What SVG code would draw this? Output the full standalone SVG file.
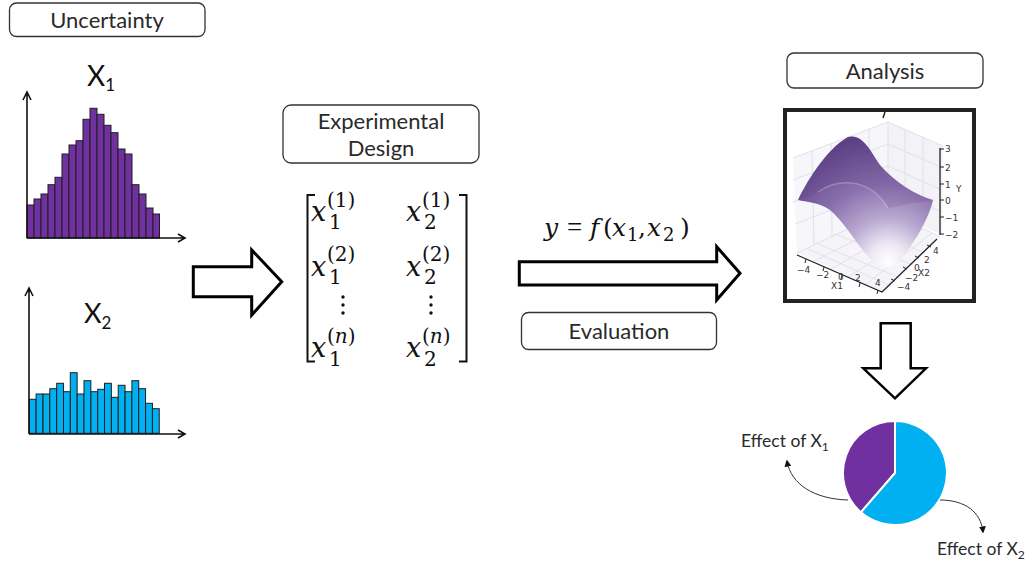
<svg xmlns="http://www.w3.org/2000/svg" width="1033" height="567" viewBox="0 0 1033 567">
<style>
.box{fill:#fff;stroke:#333;stroke-width:1.3}
.lbl{font-family:Lato,"Noto Sans",sans-serif;font-weight:400;font-size:22px;fill:#2a2a2a;text-anchor:middle}
.ax{stroke:#111;stroke-width:1.6;fill:none}
.b1{fill:#7030a0;stroke:#1e1e1e;stroke-width:1}
.b2{fill:#00b0f0;stroke:#1e1e1e;stroke-width:1}
.big{fill:#fff;stroke:#000;stroke-linejoin:miter}
.m{font-family:"DejaVu Serif",serif;fill:#111}
.mi{font-style:italic}
.grid{stroke:#e3e0ea;stroke-width:1;fill:none}
.tk{font-family:"DejaVu Sans",sans-serif;font-size:9px;fill:#333}
.eff{font-family:Lato,"Noto Sans",sans-serif;font-weight:400;font-size:17.5px;fill:#2a2a2a}
.hx{font-family:Lato,"Noto Sans",sans-serif;font-weight:400;fill:#111}
</style>
<defs>
<marker id="ah" viewBox="0 0 10 10" refX="8" refY="5" markerWidth="7" markerHeight="7" orient="auto">
<path d="M0,0 L10,5 L0,10 Z" fill="#111"/>
</marker>
<radialGradient id="surf" gradientUnits="userSpaceOnUse" cx="888" cy="262" r="130" fx="888" fy="262">
<stop offset="0" stop-color="#ffffff"/>
<stop offset="0.14" stop-color="#eee8f4"/>
<stop offset="0.34" stop-color="#b9a8d0"/>
<stop offset="0.6" stop-color="#8b72ae"/>
<stop offset="1" stop-color="#5c4086"/>
</radialGradient>
</defs>

<g id="uncertainty">
<rect class="box" x="9.5" y="3" width="195.5" height="33.5" rx="7"/>
<text class="lbl" x="107" y="27.5">Uncertainty</text>
</g>

<g id="hist-x1">
<text class="hx" font-size="28" x="87" y="86">X<tspan font-size="17" dy="5">1</tspan></text>
<rect class="b1" x="27" y="205" width="7" height="33"/>
<rect class="b1" x="34" y="199" width="7" height="39"/>
<rect class="b1" x="41" y="194" width="7" height="44"/>
<rect class="b1" x="48" y="184.7" width="7" height="53.3"/>
<rect class="b1" x="55" y="177.3" width="7" height="60.7"/>
<rect class="b1" x="62" y="154" width="7" height="84"/>
<rect class="b1" x="69" y="145" width="7" height="93"/>
<rect class="b1" x="76" y="140.7" width="7" height="97.3"/>
<rect class="b1" x="83" y="119.3" width="7" height="118.7"/>
<rect class="b1" x="90" y="108.3" width="7" height="129.7"/>
<rect class="b1" x="97" y="114.3" width="7" height="123.7"/>
<rect class="b1" x="104" y="125.3" width="7" height="112.7"/>
<rect class="b1" x="111" y="132.7" width="7" height="105.3"/>
<rect class="b1" x="118" y="149" width="7" height="89"/>
<rect class="b1" x="125" y="154" width="7" height="84"/>
<rect class="b1" x="132" y="184.7" width="7" height="53.3"/>
<rect class="b1" x="139" y="194" width="7" height="44"/>
<rect class="b1" x="146" y="208" width="7" height="30"/>
<rect class="b1" x="153" y="214" width="6.5" height="24"/>
<path class="ax" d="M27,238 L27,92 M23,100 L27,92 L31,100 M27,238 L185,238 M178,234 L185,238 L178,242"/>
</g>

<g id="hist-x2">
<text class="hx" font-size="27" x="84" y="323">X<tspan font-size="17" dy="6">2</tspan></text>
<rect class="b2" x="29.3" y="399.3" width="6.84" height="34"/>
<rect class="b2" x="36.1" y="394" width="6.84" height="39.3"/>
<rect class="b2" x="43" y="394" width="6.84" height="39.3"/>
<rect class="b2" x="49.8" y="388.7" width="6.84" height="44.6"/>
<rect class="b2" x="56.7" y="383.3" width="6.84" height="50"/>
<rect class="b2" x="63.5" y="391.7" width="6.84" height="41.6"/>
<rect class="b2" x="70.3" y="372.7" width="6.84" height="60.6"/>
<rect class="b2" x="77.2" y="394" width="6.84" height="39.3"/>
<rect class="b2" x="84" y="380.7" width="6.84" height="52.6"/>
<rect class="b2" x="90.9" y="391.7" width="6.84" height="41.6"/>
<rect class="b2" x="97.7" y="389.3" width="6.84" height="44"/>
<rect class="b2" x="104.5" y="383.3" width="6.84" height="50"/>
<rect class="b2" x="111.4" y="397.3" width="6.84" height="36"/>
<rect class="b2" x="118.2" y="385.3" width="6.84" height="48"/>
<rect class="b2" x="125.1" y="391.7" width="6.84" height="41.6"/>
<rect class="b2" x="131.9" y="380.7" width="6.84" height="52.6"/>
<rect class="b2" x="138.7" y="388.7" width="6.84" height="44.6"/>
<rect class="b2" x="145.6" y="403.3" width="6.84" height="30"/>
<rect class="b2" x="152.4" y="408.7" width="6.84" height="24.6"/>
<path class="ax" d="M29,434 L29,288 M25,296 L29,288 L33,296 M29,434 L185,434 M178,430 L185,434 L178,438"/>
</g>

<g id="experimental-design">
<rect class="box" x="283" y="105" width="196" height="58" rx="8"/>
<text class="lbl" x="381" y="129">Experimental</text>
<text class="lbl" x="381" y="156">Design</text>
</g>

<g id="matrix" class="m">
<path d="M315,195 L307.5,195 L307.5,361.5 L315,361.5 M459,195 L466.5,195 L466.5,361.5 L459,361.5" fill="none" stroke="#111" stroke-width="2"/>
<text font-size="27"><tspan class="mi" x="311" y="221">x</tspan><tspan class="mi" x="311" y="276">x</tspan><tspan class="mi" x="311" y="357">x</tspan><tspan class="mi" x="406" y="221">x</tspan><tspan class="mi" x="406" y="276">x</tspan><tspan class="mi" x="406" y="357">x</tspan></text>
<text font-size="20"><tspan x="329" y="229">1</tspan><tspan x="329" y="284">1</tspan><tspan x="329" y="366">1</tspan><tspan x="424" y="229">2</tspan><tspan x="424" y="284">2</tspan><tspan x="424" y="366">2</tspan></text>
<text font-size="20"><tspan x="327" y="207">(1)</tspan><tspan x="327" y="261">(2)</tspan><tspan x="327" y="343">(<tspan class="mi">n</tspan>)</tspan><tspan x="422" y="207">(1)</tspan><tspan x="422" y="261">(2)</tspan><tspan x="422" y="343">(<tspan class="mi">n</tspan>)</tspan></text>
<g fill="#111"><circle cx="343" cy="297" r="1.7"/><circle cx="343" cy="305" r="1.7"/><circle cx="343" cy="313" r="1.7"/><circle cx="431" cy="297" r="1.7"/><circle cx="431" cy="305" r="1.7"/><circle cx="431" cy="313" r="1.7"/></g>
</g>

<g id="formula" class="m">
<text font-size="25"><tspan class="mi" x="544" y="236">y</tspan><tspan x="567" y="236" font-family="'Liberation Serif',serif" font-size="27">=</tspan><tspan class="mi" x="590" y="236">f</tspan><tspan x="603" y="236">(</tspan><tspan class="mi" x="612" y="236">x</tspan><tspan x="638" y="236">,</tspan><tspan class="mi" x="647" y="236">x</tspan><tspan x="680" y="236">)</tspan></text>
<text font-size="18"><tspan x="627" y="241">1</tspan><tspan x="663" y="241">2</tspan></text>
</g>

<g id="evaluation">
<rect class="box" x="521.5" y="312.5" width="195" height="37" rx="7"/>
<text class="lbl" x="619" y="338.5">Evaluation</text>
</g>

<g id="analysis">
<rect class="box" x="787" y="53" width="196" height="35" rx="7"/>
<text class="lbl" x="885" y="78.5">Analysis</text>
</g>

<g id="surface-plot">
<rect x="785" y="110" width="189" height="191" fill="#fff" stroke="#222" stroke-width="4"/>
<path d="M885,112 L883,118" stroke="#222" stroke-width="1.5"/>
<polygon points="793,158 888,122 888,210 797,253" fill="#f7f6fa"/>
<polygon points="888,122 943,146 942,235 888,210" fill="#f3f2f7"/>
<polygon points="797,253 888,210 940,237 882,292" fill="#f5f4f8"/>
<path class="grid" d="M793,158 L888,122 L943,146 M888,122 L888,210 M812,151 L814,245 M831,144 L832,237 M850,137 L851,229 M869,129 L869,219 M793,180 L888,144 L943,168 M793,202 L888,166 L942,190 M795,224 L888,188 L942,212 M905,129 L905,218 M923,137 L923,226 M797,253 L888,210 L940,237 M814,261 L900,218 M831,269 L912,223 M848,277 L923,229 M865,285 L932,233 M806,248 L891,286 M816,243 L900,278 M835,234 L913,265 M855,225 L925,253"/>
<path d="M798,200 C805,185 825,150 848,137 C862,133 870,150 880,165 C895,182 915,195 933,200 C930,215 915,245 897,262 C890,268 884,270 880,268 C862,255 848,225 830,210 C818,202 806,202 798,200 Z" fill="url(#surf)"/>
<path d="M798,200 C805,185 825,150 848,137 C862,133 870,150 880,165 C895,182 915,195 933,200 C915,203 900,205 888,208 C880,195 868,186 850,183 C835,183 826,186 818,192 C810,196 804,199 798,200 Z" fill="#4f3278" opacity="0.15"/>
<path d="M818,192 C828,185 840,182 852,183 C868,185 880,195 888,208" fill="none" stroke="#fff" stroke-opacity="0.25" stroke-width="1.5"/>
<path d="M797,255 L882,292 L937,239 M940,148 L940,235" stroke="#222" stroke-width="1.3" fill="none"/>
<path d="M940,149 L944,149 M940,167 L944,167 M940,184 L944,184 M940,200 L944,200 M940,217 L944,217 M940,234 L944,234 M806,259 L805,263 M824,267 L823,271 M842,275 L841,279 M860,283 L859,287 M878,290 L877,294 M891,279 L895,281 M903,267 L907,269 M915,256 L919,258 M927,245 L931,247" stroke="#222" stroke-width="1"/>
<g class="tk">
<text x="945" y="152">3</text><text x="945" y="171">2</text><text x="945" y="188">1</text><text x="945" y="204">0</text><text x="945" y="221">−1</text><text x="945" y="238">−2</text>
<text x="956" y="192">Y</text>
<text x="797" y="273">−4</text><text x="816" y="278">−2</text><text x="838" y="280">0</text><text x="855" y="281">2</text><text x="875" y="286">4</text>
<text x="831" y="289">X1</text>
<text x="933" y="254">4</text><text x="924" y="263">2</text><text x="914" y="271">0</text><text x="918" y="276">X2</text><text x="905" y="281">−2</text><text x="897" y="290">−4</text>
</g>
</g>

<g id="pie">
<path d="M895,473 L895,421 A52,52 0 0,0 860.9,512.3 Z" fill="#7030a0" stroke="#fff" stroke-width="2"/>
<path d="M895,473 L860.9,512.3 A52,52 0 1,0 895,421 Z" fill="#00b0f0" stroke="#fff" stroke-width="2"/>
</g>

<g id="effect-x1">
<text class="eff" x="741" y="447">Effect of X<tspan font-size="12" dy="4">1</tspan></text>
</g>
<g id="effect-x2">
<text class="eff" x="937" y="555">Effect of X<tspan font-size="12" dy="4">2</tspan></text>
</g>

<g id="connectors">
<polygon class="big" stroke-width="3" points="193.3,266.7 251.7,266.7 251.7,250 281.7,281.7 251.7,315 251.7,296.7 193.3,296.7"/>
<polygon class="big" stroke-width="3" points="519.3,261.7 716.7,261.7 716.7,246.7 740,273.3 716.7,300 716.7,285 519.3,285"/>
<polygon class="big" stroke-width="2.5" points="880.7,323.3 910.7,323.3 910.7,368.3 926,368.3 895,398.3 863.3,368.3 880.7,368.3"/>
<path d="M848,500 C815,499 791,485 787,461" fill="none" stroke="#333" stroke-width="1" marker-end="url(#ah)"/>
<path d="M940,500 C965,500 981,512 983,532" fill="none" stroke="#333" stroke-width="1" marker-end="url(#ah)"/>
</g>
</svg>
